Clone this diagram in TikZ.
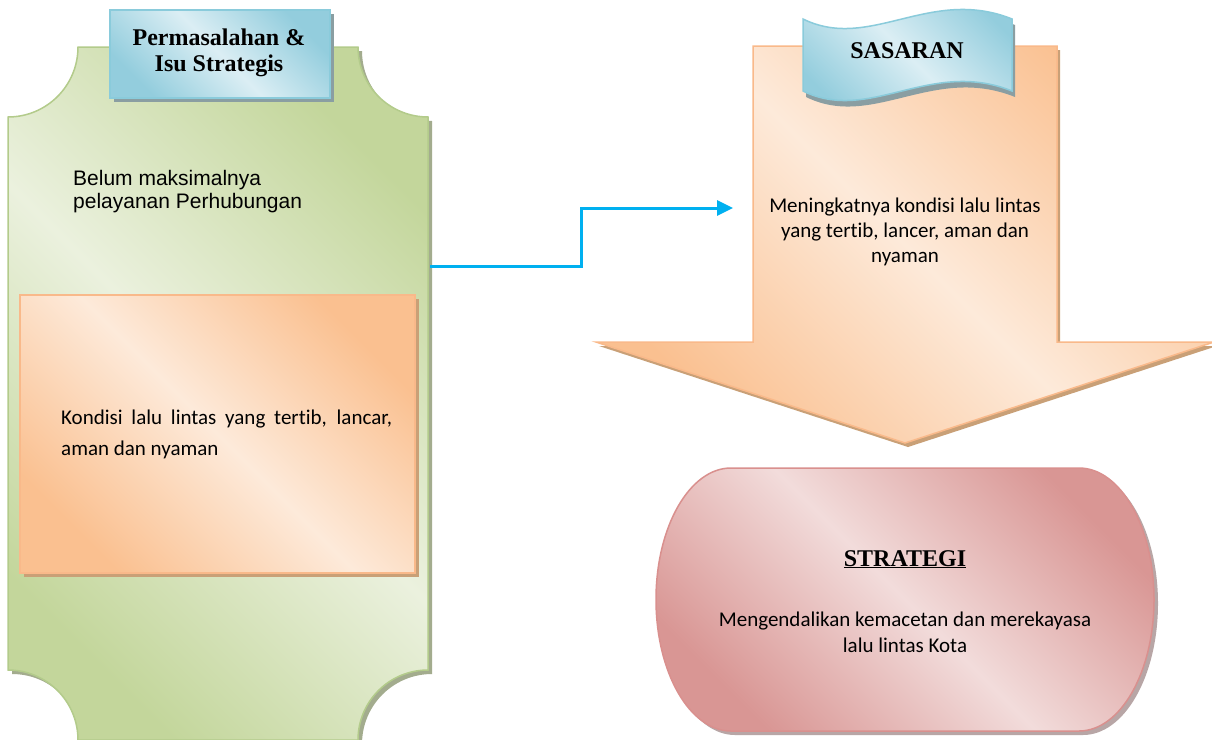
\documentclass[tikz,border=0pt]{standalone}
\usepackage{fontspec}
\setmainfont{Liberation Serif}
\newfontfamily\calfont[Ligatures=NoCommon]{Carlito}
\newfontfamily\arifont{Liberation Sans}
\usetikzlibrary{arrows.meta}
\definecolor{gDark}{HTML}{C3D69B}
\definecolor{gLight}{HTML}{EBF1DE}
\definecolor{gBorder}{HTML}{B3CB8B}
\definecolor{gShadow}{HTML}{A3AC8E}
\definecolor{oDark}{HTML}{FAC090}
\definecolor{oLight}{HTML}{FDEADA}
\definecolor{oBorder}{HTML}{F9B98A}
\definecolor{oShadow}{HTML}{C9A077}
\definecolor{bDark}{HTML}{93CDDD}
\definecolor{bLight}{HTML}{DBEEF4}
\definecolor{bBorder}{HTML}{8ACBDB}
\definecolor{bShadow}{HTML}{8A9EA2}
\definecolor{pDark}{HTML}{D99694}
\definecolor{pLight}{HTML}{F2DCDB}
\definecolor{pBorder}{HTML}{D9908E}
\definecolor{pShadow}{HTML}{B8A6A6}
\definecolor{connBlue}{HTML}{00B0F0}
\tikzset{
  greenfill/.style={top color=gDark, bottom color=gDark, middle color=gLight, shading angle=-45, draw=gBorder, line width=1.5pt},
  orangefill/.style={top color=oDark, bottom color=oDark, middle color=oLight, shading angle=-45, draw=oBorder, line width=1.5pt},
  bluefill/.style={top color=bDark, bottom color=bDark, middle color=bLight, shading angle=-45, draw=bBorder, line width=1.5pt},
  pinkfill/.style={top color=pDark, bottom color=pDark, middle color=pLight, shading angle=-45, draw=pBorder, line width=1.5pt},
  titletext/.style={anchor=base, inner sep=0pt, font=\fontsize{24}{27}\selectfont\bfseries},
  caltext/.style={anchor=base, inner sep=0pt, font=\calfont\fontsize{21}{25}\selectfont},
  aritext/.style={anchor=base west, inner sep=0pt, font=\arifont\fontsize{21}{24}\selectfont},
  conn/.style={draw=connBlue, line width=3pt, -{Triangle[length=16pt,width=15pt]}}
}
\def\greenpath{(8,117) -- (8,670) .. controls (46.7,670) and (78,701.3) .. (78,740) -- (358,740) .. controls (358,701.3) and (389.3,670) .. (428,670) -- (428,117) .. controls (389.3,117) and (358,85.7) .. (358,47) -- (78,47) .. controls (78,85.7) and (46.7,117) .. (8,117) -- cycle}
\def\arrowpath{(753,46) -- (1057,46) -- (1057,342) -- (1214,342) -- (905,443) -- (596,342) -- (753,342) -- cycle}
\def\bannerpath{(803,19) .. controls (870,52) and (930,-14) .. (1012,19) -- (1012,91) .. controls (930,58) and (870,124) .. (803,91) -- cycle}
\def\termpath{(731,468) -- (1079,468) .. controls (1120.4,468) and (1154,526.9) .. (1154,599.5) .. controls (1154,672.1) and (1120.4,731) .. (1079,731) -- (731,731) .. controls (689.6,731) and (656,672.1) .. (656,599.5) .. controls (656,526.9) and (689.6,468) .. (731,468) -- cycle}
\begin{document}
\begin{tikzpicture}[x=1pt,y=-1pt]
\useasboundingbox (0,0) rectangle (1212,739);
\fill[white] (0,0) rectangle (1212,739);
% green panel
\fill[gShadow, shift={(4,4)}] \greenpath;
\path[greenfill] \greenpath;
% title box
\fill[bShadow] (114,14) rectangle (334,102);
\path[bluefill] (110,10) rectangle (330,98);
\node[titletext] (tA) at (219,45) {Permasalahan \&};
\node[titletext] (tB) at (219,71) {Isu Strategis};
% belum text
\node[aritext] (bA) at (73,185) {Belum maksimalnya};
\node[aritext] (bB) at (73,208) {pelayanan Perhubungan};
% kondisi box
\fill[oShadow] (24,299) rectangle (419,577);
\path[orangefill] (20,295) rectangle (415,573);
\node[caltext, anchor=base west] (kA) at (61,424) {\makebox[331pt][s]{Kondisi lalu lintas yang tertib, lancar,}};
\node[caltext, anchor=base west] (kB) at (61,455) {aman dan nyaman};
% orange arrow
\fill[oShadow, shift={(3,4)}] \arrowpath;
\path[orangefill] \arrowpath;
% banner
\fill[bShadow, shift={(3,6)}] \bannerpath;
\path[bluefill] \bannerpath;
\node[titletext] (sas) at (907,58) {SASARAN};
% sasaran text
\node[caltext] (mA) at (905,212) {Meningkatnya kondisi lalu lintas};
\node[caltext] (mB) at (905,237) {yang tertib, lancer, aman dan};
\node[caltext] (mC) at (905,262) {nyaman};
% strategi
\fill[pShadow, shift={(4,4)}] \termpath;
\path[pinkfill] \termpath;
\node[titletext] (str) at (905,566) {\underline{STRATEGI}};
\node[caltext] (sA) at (905,626) {Mengendalikan kemacetan dan merekayasa};
\node[caltext] (sB) at (905,652) {lalu lintas Kota};
% connector
\coordinate (gOut) at (430,266);
\coordinate (aIn) at (733,208);
\draw[conn] (gOut) -- ++(151,0) |- (aIn);
\end{tikzpicture}
\end{document}
